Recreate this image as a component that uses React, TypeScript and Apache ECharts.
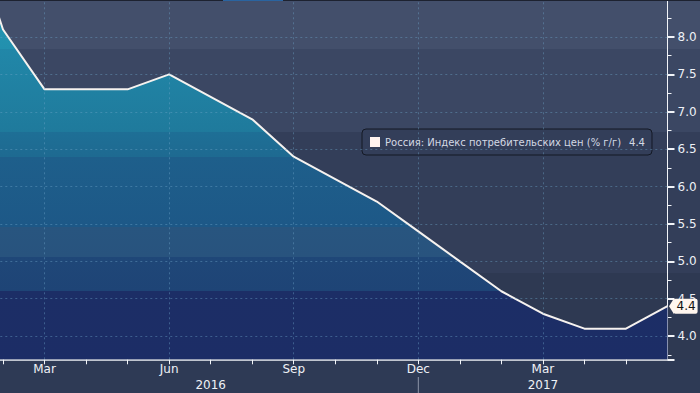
import React, { useEffect, useRef } from "react";
import * as echarts from "echarts";

// Month index: 0 = Jan 2016 ... 17 = Jun 2017
const monthIndex = [0, 1, 2, 3, 4, 5, 6, 7, 8, 9, 10, 11, 12, 13, 14, 15, 16, 17];
const cpiValues = [9.8, 8.1, 7.3, 7.3, 7.3, 7.5, 7.2, 6.9, 6.4, 6.1, 5.8, 5.4, 5.0, 4.6, 4.3, 4.1, 4.1, 4.4];
const monthTickLabels: Record<number, string> = { 2: "Mar", 5: "Jun", 8: "Sep", 11: "Dec", 14: "Mar" };
const yearTickLabels: Record<number, string> = { 6: "2016", 14: "2017" };
const yGridValues = [4.0, 4.5, 5.0, 5.5, 6.0, 6.5, 7.0, 7.5, 8.0];
const xGridValues = [2, 5, 8, 11, 14];
const yearSeparator = 11;
const seriesName = "Россия: Индекс потребительских цен (% г/г)";

const FONT = "DejaVu Sans";

export default function App() {
  const ref = useRef<HTMLDivElement>(null);
  useEffect(() => {
    if (!ref.current) return;
    const chart = echarts.init(ref.current, undefined, { renderer: "svg" });
    const data = monthIndex.map((m, i) => [m, cpiValues[i]]);
    const last = cpiValues[cpiValues.length - 1];
    const H = 359.3;
    const fill = new echarts.graphic.LinearGradient(
      0, 0, 0, H,
      [
        { offset: 0, color: "#2497b4" },
        { offset: 49 / H, color: "#2290ae" },
        { offset: 49.01 / H, color: "#2187a8" },
        { offset: 132 / H, color: "#1f7a9c" },
        { offset: 132.01 / H, color: "#1e6f96" },
        { offset: 157 / H, color: "#1e6a91" },
        { offset: 157.01 / H, color: "#1e5f8b" },
        { offset: 227 / H, color: "#1d5887" },
        { offset: 227.01 / H, color: "#28557f" },
        { offset: 257 / H, color: "#28537e" },
        { offset: 257.01 / H, color: "#1f4778" },
        { offset: 291 / H, color: "#1e4476" },
        { offset: 291.01 / H, color: "#1c2e66" },
        { offset: 1, color: "#1c2d66" },
      ],
      true
    );
    const gridLine = { type: [2, 3] as any, color: "rgba(110,165,200,0.42)", width: 1 };
    chart.setOption({
      animation: false,
      backgroundColor: "#2e3a55",
      grid: { left: 0, right: 32.5, top: 0, bottom: 393 - H },
      legend: {
        data: [seriesName],
        left: 362,
        top: 129,
        padding: [8, 7, 8, 8],
        backgroundColor: "#333e59",
        borderColor: "#141925",
        borderWidth: 1,
        borderRadius: 4,
        icon: "rect",
        itemWidth: 10,
        itemHeight: 10,
        itemGap: 5,
        itemStyle: { color: "#fff3ef", borderWidth: 0 },
        selectedMode: false,
        formatter: (name: string) => `{a|${name}}{b|${last.toFixed(1)}}`,
        textStyle: {
          color: "#d3d9e4",
          fontFamily: FONT,
          fontSize: 10,
          rich: {
            a: { color: "#d3d9e4", fontFamily: FONT, fontSize: 10 },
            b: { color: "#d3d9e4", fontFamily: FONT, fontSize: 10, padding: [0, 0, 0, 8] },
          },
        },
      },
      xAxis: [
        {
          type: "value",
          min: 0.935,
          max: 17,
          minInterval: 1,
          maxInterval: 1,
          splitLine: { show: false },
          axisLine: { show: true, onZero: false, lineStyle: { color: "#f2f4f8", width: 1.5 } },
          axisTick: { show: true, length: 5, lineStyle: { color: "#f2f4f8", width: 1 } },
          axisLabel: {
            margin: 4,
            color: "#eef1f6",
            fontFamily: FONT,
            fontSize: 12,
            showMinLabel: false,
            showMaxLabel: false,
            formatter: (v: number) => monthTickLabels[Math.round(v * 1000) / 1000] ?? "",
          },
        },
        {
          type: "value",
          position: "bottom",
          offset: 16,
          min: 0.935,
          max: 17,
          minInterval: 1,
          maxInterval: 1,
          splitLine: { show: false },
          axisLine: { show: false },
          axisTick: { show: false },
          axisLabel: {
            margin: 4,
            color: "#eef1f6",
            fontFamily: FONT,
            fontSize: 12,
            showMinLabel: false,
            showMaxLabel: false,
            formatter: (v: number) => yearTickLabels[Math.round(v * 1000) / 1000] ?? "",
          },
        },
      ],
      yAxis: {
        type: "value",
        position: "right",
        min: 3.69,
        max: 8.495,
        minInterval: 0.5,
        maxInterval: 0.5,
        splitLine: { show: false },
        axisLine: { show: true, lineStyle: { color: "#f2f4f8", width: 1 } },
        axisTick: { show: true, length: 7, lineStyle: { color: "#f2f4f8", width: 2 } },
        minorTick: { show: true, splitNumber: 2, length: 4, lineStyle: { color: "#f2f4f8", width: 1 } },
        axisLabel: {
          margin: 10,
          color: "#eef1f6",
          fontFamily: FONT,
          fontSize: 12,
          showMinLabel: false,
          showMaxLabel: false,
          formatter: (v: number) => v.toFixed(1),
        },
      },
      series: [
        {
          name: seriesName,
          type: "line",
          data,
          showSymbol: false,
          clip: true,
          lineStyle: { color: "#f6f2ef", width: 2 },
          itemStyle: { color: "#f6f2ef" },
          areaStyle: { color: fill, opacity: 1, origin: "start" },
          endLabel: {
            show: true,
            formatter: (p: any) => Number(p.value[1]).toFixed(1),
            backgroundColor: "#fff6ee",
            color: "#111111",
            fontFamily: FONT,
            fontSize: 12,
            padding: [2, 2, 1, 3],
            borderRadius: 2,
            distance: 6,
          },
          markLine: {
            silent: true,
            symbol: ["none", "none"],
            label: { show: false },
            lineStyle: gridLine,
            data: [
              ...yGridValues.map((v) => ({ yAxis: v })),
              ...xGridValues.map((v) => ({ xAxis: v })),
            ],
          },
        },
      ],
      graphic: [
        { id: "b1", type: "rect", z: -10, shape: { x: 0, y: 0, width: 700, height: 49 }, style: { fill: "#434f6b" } },
        { id: "b2", type: "rect", z: -10, shape: { x: 0, y: 49, width: 700, height: 83 }, style: { fill: "#3b4763" } },
        { id: "b3", type: "rect", z: -10, shape: { x: 0, y: 132, width: 700, height: 141 }, style: { fill: "#333e59" } },
        { id: "b4", type: "rect", z: -10, shape: { x: 0, y: 273, width: 700, height: H - 273 }, style: { fill: "#2e3952" } },
        { id: "t1", type: "rect", z: 10, shape: { x: 0, y: 0, width: 700, height: 1 }, style: { fill: "#1d2230" } },
        { id: "t2", type: "rect", z: 11, shape: { x: 223, y: 0, width: 60, height: 1 }, style: { fill: "#2a64a0" } },
      ],
    });
    const sepX = chart.convertToPixel({ xAxisIndex: 0 }, yearSeparator) as number;
    const endPt = chart.convertToPixel({ xAxisIndex: 0, yAxisIndex: 0 }, [
      monthIndex[monthIndex.length - 1],
      last,
    ]) as number[];
    chart.setOption({
      graphic: [
        {
          id: "sep",
          type: "line",
          z: 10,
          shape: { x1: sepX, y1: 377, x2: sepX, y2: 393 },
          style: { stroke: "#8c95a8", lineWidth: 1 },
        },
        {
          id: "ptr",
          type: "polygon",
          z: 100,
          shape: {
            points: [
              [endPt[0] + 1.5, endPt[1]],
              [endPt[0] + 6.5, endPt[1] - 8],
              [endPt[0] + 6.5, endPt[1] + 8],
            ],
          },
          style: { fill: "#fff6ee" },
        },
      ],
    });
    return () => chart.dispose();
  }, []);
  return <div ref={ref} style={{ position: "fixed", left: 0, top: 0, width: 700, height: 393 }} />;
}
